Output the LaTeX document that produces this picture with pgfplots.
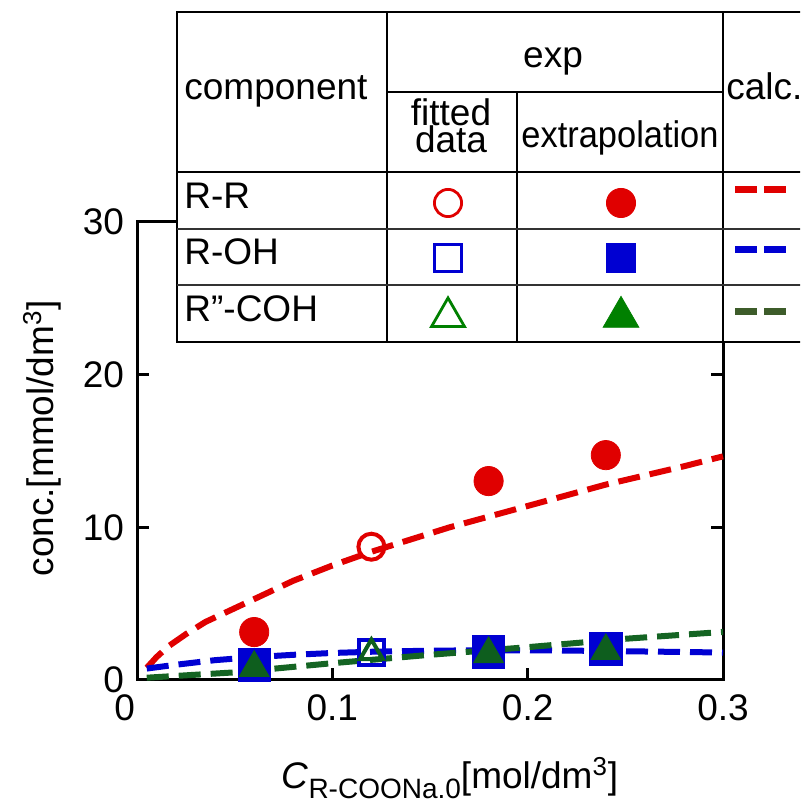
\documentclass[border=0pt]{standalone}
\usepackage{pgfplots}
\usepackage{pgfplotstable}
\pgfplotsset{compat=1.18}
\usepackage{fontspec}
\setmainfont{Liberation Sans}
\definecolor{cred}{RGB}{224,0,0}
\definecolor{cblue}{RGB}{0,0,210}
\definecolor{cgreen}{RGB}{14,94,30}
\definecolor{lgreen}{RGB}{0,128,0}
\definecolor{lolive}{RGB}{61,92,42}
\definecolor{linegreen}{RGB}{20,100,35}
\newcommand{\bigf}{\fontsize{18.5}{22}\selectfont}

\pgfplotstableread{
x y
0.005 0.8
0.010 1.5
0.016 2.2
0.025 3.0
0.035 3.8
0.050 4.7
0.060 5.3
0.080 6.5
0.100 7.5
0.120 8.4
0.140 9.2
0.160 10.0
0.180 10.7
0.200 11.4
0.220 12.1
0.240 12.8
0.260 13.4
0.280 14.0
0.300 14.65
}\calcRR
\pgfplotstableread{
x y
0.005 0.75
0.02 1.0
0.04 1.3
0.06 1.5
0.08 1.65
0.10 1.77
0.12 1.85
0.15 1.92
0.18 1.95
0.21 1.94
0.24 1.9
0.27 1.85
0.30 1.8
}\calcROH
\pgfplotstableread{
x y
0.005 0.15
0.05 0.5
0.10 1.1
0.15 1.65
0.20 2.15
0.25 2.7
0.30 3.15
}\calcRCOH

\begin{document}
\begin{tikzpicture}
\useasboundingbox (0,0) rectangle (400pt,400.5pt);
\clip (0,0) rectangle (400pt,400.5pt);
\begin{axis}[
  at={(68.5pt,60.5pt)}, anchor=south west,
  scale only axis, width=293pt, height=229pt,
  xmin=0, xmax=0.3, ymin=0, ymax=30,
  xtick={0,0.1,0.2,0.3}, ytick={0,10,20,30},
  xticklabels={\makebox[0pt][r]{0\hspace{1pt}},0.1,0.2,0.3},
  yticklabels={0,10,20,30},
  tick align=inside, major tick length=6pt,
  axis line style={line width=1.5pt},
  every tick/.style={line width=1.5pt, black},
  tick label style={font=\bigf},
  /pgf/number format/assume math mode=true,
  x tick label style={yshift=-4pt},
  y tick label style={xshift=-3pt},
  label style={font=\bigf},
  xlabel={\textit{C}\raisebox{-5pt}{\fontsize{14}{16}\selectfont R-COONa.0}[mol/dm\textsuperscript{3}]},
  ylabel={conc.[mmol/dm\textsuperscript{3}]},
  xlabel style={at={(axis description cs:0.534,-0.236)}, anchor=base},
  ylabel style={at={(axis description cs:-0.162,0.528)}, anchor=center},
  clip=false,
]
\addplot[cred, line width=3pt, dash pattern=on 11pt off 5pt] table {\calcRR};
\addplot[cblue, line width=3pt, dash pattern=on 11pt off 5pt] table {\calcROH};
\addplot[linegreen, line width=3pt, dash pattern=on 11pt off 5pt] table {\calcRCOH};
% R-R
\addplot[only marks, mark=*, mark size=7.3pt, mark options={fill=cred, draw=cred, line width=0.4pt, solid}] coordinates {(0.06,3.14) (0.18,13.03) (0.24,14.73)};
\addplot[only marks, mark=o, mark size=6.5pt, mark options={draw=cred, fill=white, line width=2pt, solid}] coordinates {(0.12,8.73)};
% R-OH
\addplot[only marks, mark=square*, mark size=8.1pt, mark options={fill=cblue, draw=cblue, line width=0.4pt, solid}] coordinates {(0.06,1.0) (0.18,1.83) (0.24,2.03)};
\addplot[only marks, mark=square, mark size=6.25pt, mark options={draw=cblue, fill=white, line width=2pt, solid}] coordinates {(0.12,1.8)};
% R''-COH
\addplot[only marks, mark=triangle*, mark size=8.6pt, mark options={fill=cgreen, draw=cgreen, line width=0.4pt, solid}] coordinates {(0.06,0.8) (0.18,1.7) (0.24,1.9)};
\addplot[only marks, mark=triangle, mark size=6.5pt, mark options={draw=cgreen, line width=2pt, solid}] coordinates {(0.12,1.8)};
\end{axis}

% legend table in pixel coordinates
\begin{axis}[
  at={(0pt,0pt)}, anchor=south west,
  scale only axis, width=400pt, height=400.5pt,
  xmin=0, xmax=800, ymin=0, ymax=801, y dir=reverse,
  hide axis, clip=false,
]
\fill[white] (axis cs:177,12) rectangle (axis cs:880,342);
\draw[line width=0.9pt] (axis cs:177,12) rectangle (axis cs:880,342);
\draw[line width=0.9pt] (axis cs:387,12) -- (axis cs:387,342);
\draw[line width=0.9pt] (axis cs:723,12) -- (axis cs:723,342);
\draw[line width=0.9pt] (axis cs:516.6,92) -- (axis cs:516.6,342);
\draw[line width=0.9pt] (axis cs:387,92) -- (axis cs:723,92);
\draw[line width=0.9pt] (axis cs:177,172) -- (axis cs:880,172);
\draw[line width=0.7pt, black!80] (axis cs:177,229) -- (axis cs:880,229);
\draw[line width=0.7pt, black!80] (axis cs:177,285) -- (axis cs:880,285);
\node[anchor=base west, inner sep=0pt, font=\bigf] at (axis cs:184,100) {component};
\node[anchor=base west, inner sep=0pt, font=\bigf] at (axis cs:726,100) {calc.};
\node[anchor=base, inner sep=0pt, font=\bigf] at (axis cs:553,68) {exp};
\node[anchor=base, inner sep=0pt, font=\bigf] at (axis cs:451,126) {fitted};
\node[anchor=base, inner sep=0pt, font=\bigf] at (axis cs:451,153) {data};
\node[anchor=base, inner sep=0pt, font=\bigf] at (axis cs:620,148) {\scalebox{0.93}[1]{extrapolation}};
\node[anchor=base west, inner sep=0pt, font=\bigf] at (axis cs:184,209) {R-R};
\node[anchor=base west, inner sep=0pt, font=\bigf] at (axis cs:184,265) {R-OH};
\node[anchor=base west, inner sep=0pt, font=\bigf] at (axis cs:184,322) {R''-COH};
\addplot[only marks, mark=o, mark size=6.8pt, mark options={draw=cred, line width=1.4pt}] coordinates {(448,203)};
\addplot[only marks, mark=*, mark size=7.3pt, mark options={fill=cred, draw=cred, line width=0.4pt}] coordinates {(621,203)};
\addplot[only marks, mark=square, mark size=6.8pt, mark options={draw=cblue, line width=1.4pt}] coordinates {(448,258)};
\addplot[only marks, mark=square*, mark size=7.4pt, mark options={fill=cblue, draw=cblue, line width=0.4pt}] coordinates {(621,258)};
\addplot[only marks, mark=triangle, mark size=9.5pt, mark options={draw=lgreen, line width=1.4pt}] coordinates {(448,317)};
\addplot[only marks, mark=triangle*, mark size=10.3pt, mark options={fill=lgreen, draw=lgreen, line width=0.4pt}] coordinates {(621,317)};
\addplot[cred, line width=3.5pt, dash pattern=on 11pt off 3.5pt] coordinates {(735,190) (786,190)};
\addplot[cblue, line width=3.5pt, dash pattern=on 11pt off 3.5pt] coordinates {(735,250) (786,250)};
\addplot[lolive, line width=3.5pt, dash pattern=on 11pt off 3.5pt] coordinates {(735,312) (786,312)};
\end{axis}
\end{tikzpicture}
\end{document}
